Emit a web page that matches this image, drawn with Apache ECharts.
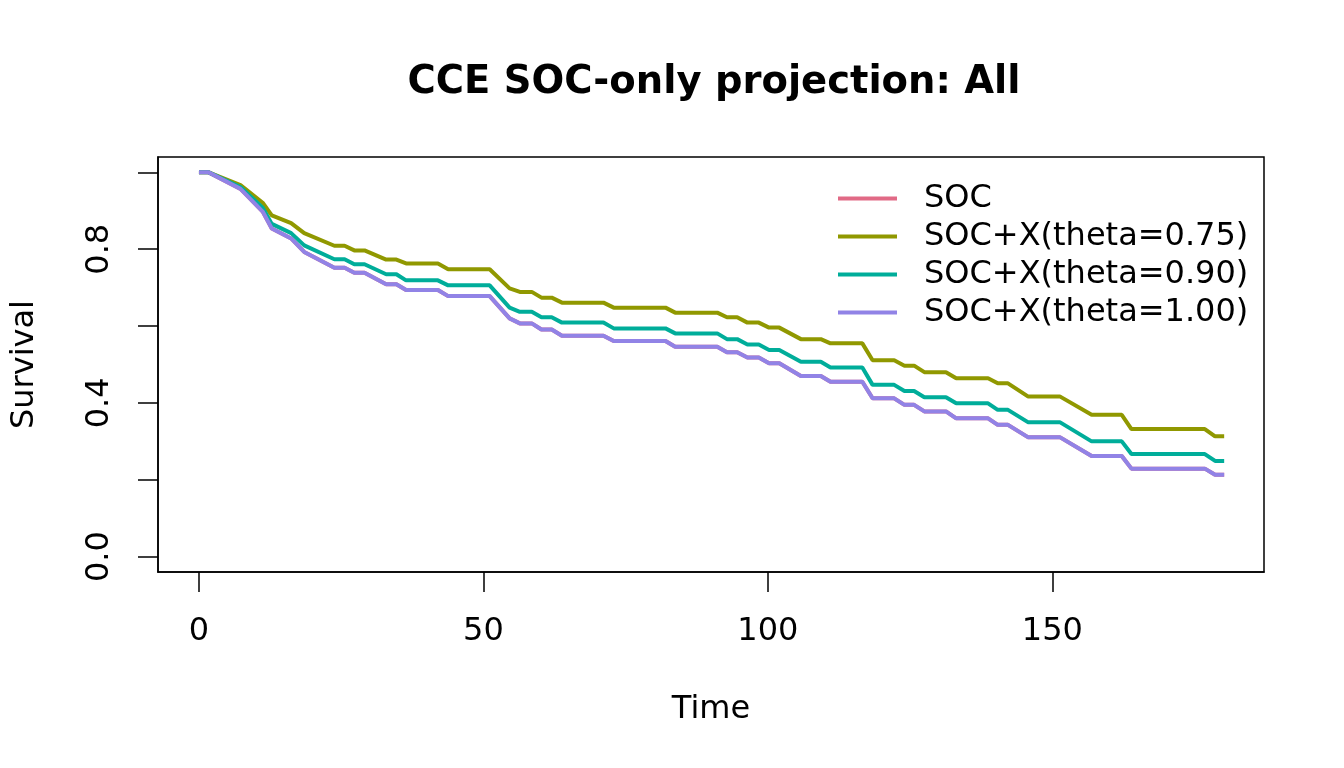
<!DOCTYPE html>
<html>
<head>
<meta charset="utf-8">
<script src="https://cdn.jsdelivr.net/npm/echarts@6/dist/echarts.min.js"></script>
<style>html,body{margin:0;padding:0;background:#fff}#c{width:1344px;height:768px}</style>
</head>
<body>
<div id="c"></div>
<script>
const timePoints = [0, 1.7, 7.3, 11.2, 12.8, 16.2, 18.5, 23.8, 25.6, 27.3, 29.1, 32.9, 34.7, 36.4, 42.0, 43.8, 51.1, 54.6, 56.4, 58.5, 60.2, 62.0, 63.8, 71.1, 72.9, 82.0, 83.7, 91.1, 92.8, 94.6, 96.4, 98.4, 100.2, 102.0, 105.8, 109.3, 111.0, 116.6, 118.4, 122.2, 124.0, 125.7, 127.5, 131.3, 133.1, 138.7, 140.4, 142.2, 145.7, 151.3, 156.9, 162.2, 163.9, 176.8, 178.6, 180.2];
const socSurv = [1.0, 1.0, 0.957, 0.898, 0.854, 0.828, 0.793, 0.752, 0.752, 0.739, 0.739, 0.709, 0.709, 0.694, 0.694, 0.678, 0.678, 0.620, 0.607, 0.607, 0.591, 0.591, 0.575, 0.575, 0.561, 0.561, 0.546, 0.546, 0.532, 0.532, 0.518, 0.518, 0.503, 0.503, 0.470, 0.470, 0.455, 0.455, 0.412, 0.412, 0.395, 0.395, 0.378, 0.378, 0.360, 0.360, 0.343, 0.343, 0.311, 0.311, 0.262, 0.262, 0.229, 0.229, 0.213, 0.213];
const theta075Surv = [1.0, 1.0, 0.967, 0.921, 0.888, 0.868, 0.842, 0.809, 0.809, 0.797, 0.797, 0.773, 0.773, 0.763, 0.763, 0.748, 0.748, 0.698, 0.689, 0.689, 0.674, 0.674, 0.661, 0.661, 0.648, 0.648, 0.635, 0.635, 0.623, 0.623, 0.609, 0.609, 0.596, 0.596, 0.566, 0.566, 0.555, 0.555, 0.511, 0.511, 0.497, 0.497, 0.480, 0.480, 0.464, 0.464, 0.451, 0.451, 0.417, 0.417, 0.369, 0.369, 0.332, 0.332, 0.313, 0.313];
const theta090Surv = [1.0, 1.0, 0.962, 0.908, 0.866, 0.842, 0.810, 0.774, 0.774, 0.761, 0.761, 0.735, 0.735, 0.719, 0.719, 0.706, 0.706, 0.648, 0.637, 0.637, 0.623, 0.623, 0.609, 0.609, 0.594, 0.594, 0.581, 0.581, 0.566, 0.566, 0.552, 0.552, 0.538, 0.538, 0.507, 0.507, 0.492, 0.492, 0.447, 0.447, 0.431, 0.431, 0.415, 0.415, 0.399, 0.399, 0.382, 0.382, 0.350, 0.350, 0.300, 0.300, 0.267, 0.267, 0.249, 0.249];
const theta100Surv = [1.0, 1.0, 0.957, 0.898, 0.854, 0.828, 0.793, 0.752, 0.752, 0.739, 0.739, 0.709, 0.709, 0.694, 0.694, 0.678, 0.678, 0.620, 0.607, 0.607, 0.591, 0.591, 0.575, 0.575, 0.561, 0.561, 0.546, 0.546, 0.532, 0.532, 0.518, 0.518, 0.503, 0.503, 0.470, 0.470, 0.455, 0.455, 0.412, 0.412, 0.395, 0.395, 0.378, 0.378, 0.360, 0.360, 0.343, 0.343, 0.311, 0.311, 0.262, 0.262, 0.229, 0.229, 0.213, 0.213];
const seriesNames = ['SOC', 'SOC+X(theta=0.75)', 'SOC+X(theta=0.90)', 'SOC+X(theta=1.00)'];
const seriesColors = ['#E16A86', '#909800', '#00AD9A', '#9183E6'];
const xTicks = [0, 50, 100, 150];
const yTicks = [0, 0.2, 0.4, 0.6, 0.8, 1.0];
const yLabels = [0, 0.4, 0.8];

const allSurv = [socSurv, theta075Surv, theta090Surv, theta100Surv];
const FONT = 'DejaVu Sans';
const FS = 32;
const chart = echarts.init(document.getElementById('c'));
chart.setOption({
  backgroundColor: '#ffffff',
  animation: false,
  title: {
    text: 'CCE SOC-only projection: All',
    left: 709, top: 58, textAlign: 'center',
    textStyle: { fontFamily: FONT, fontWeight: 'bold', fontSize: 38.5, color: '#000' }
  },
  legend: {
    orient: 'vertical',
    left: 838, top: 179, padding: 0,
    itemWidth: 59, itemHeight: 4, itemGap: -1,
    icon: 'rect',
    data: seriesNames,
    textStyle: { fontFamily: FONT, fontSize: FS, color: '#000', lineHeight: 39, padding: [0, 0, 0, 22] }
  },
  grid: {
    left: 158, right: 80, top: 157, bottom: 196,
    show: true, borderColor: '#000', borderWidth: 1.5, backgroundColor: 'transparent'
  },
  xAxis: {
    type: 'value', min: -7.2, max: 187.2,
    name: 'Time', nameLocation: 'middle', nameGap: 122,
    nameTextStyle: { fontFamily: FONT, fontSize: FS, color: '#000' },
    axisLine: { show: true, onZero: false, lineStyle: { color: '#000', width: 1.5 } },
    axisTick: { show: true, length: 20, customValues: xTicks, lineStyle: { color: '#000', width: 1.5 } },
    axisLabel: { customValues: xTicks, margin: 44, fontFamily: FONT, fontSize: FS, color: '#000' },
    splitLine: { show: false }
  },
  yAxis: {
    type: 'value', min: -0.04, max: 1.04,
    name: 'Survival', nameLocation: 'middle', nameGap: 117, nameRotate: 90,
    nameTextStyle: { fontFamily: FONT, fontSize: FS, color: '#000' },
    axisLine: { show: true, onZero: false, lineStyle: { color: '#000', width: 1.5 } },
    axisTick: { show: true, length: 20, customValues: yTicks, lineStyle: { color: '#000', width: 1.5 } },
    axisLabel: { customValues: yLabels, rotate: 90, margin: 42, fontFamily: FONT, fontSize: FS, color: '#000',
      formatter: v => v.toFixed(1) },
    splitLine: { show: false }
  },
  series: seriesNames.map((name, i) => ({
    name: name,
    type: 'line',
    showSymbol: false,
    symbol: 'none',
    color: seriesColors[i],
    lineStyle: { color: seriesColors[i], width: 4 },
    data: timePoints.map((t, j) => [t, allSurv[i][j]]),
    z: 2 + i
  }))
});
</script>
</body>
</html>
